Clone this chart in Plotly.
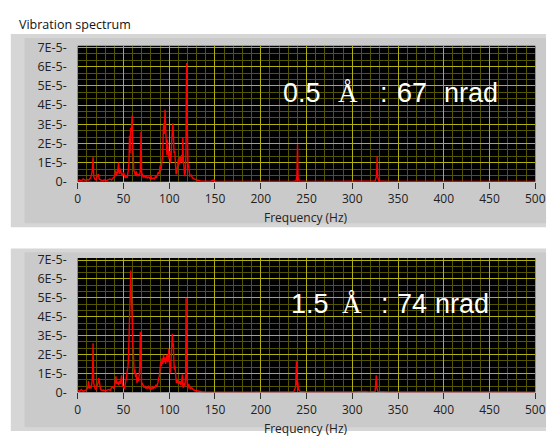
import numpy as np
import plotly.graph_objects as go

# ---- spectrum data (frequency in Hz, amplitude in units of 1E-5) ----
freq_a = [0, 2, 4, 6, 8, 10, 12, 14, 15, 16, 16.8, 17.5, 18.5, 20, 21.5, 22.5, 23.5, 25, 27, 29,
          31, 33, 35, 37, 39, 40.5, 41.5, 42.5, 43.5, 44.6, 45.3, 46, 47, 48, 49, 50, 51, 52, 53, 54,
          55, 56, 56.6, 57.2, 57.8, 58.4, 59, 59.5, 60, 60.6, 61.3, 62, 63, 64, 65, 66, 67, 68.3, 69.2, 69.8,
          70.5, 71.5, 73, 74, 75, 76, 77.5, 79, 80, 81, 82.5, 84, 85, 86, 87, 88, 89, 90, 91, 92,
          92.8, 93.5, 94, 94.5, 95, 95.5, 96, 96.5, 97, 97.5, 98, 98.5, 99, 99.8, 100.5, 101.2, 102, 102.8, 103.4, 104,
          104.6, 105.2, 106, 106.8, 107.5, 108.3, 109, 110, 110.8, 111.5, 112.2, 113, 113.6, 114.4, 114.8, 115.4, 116, 116.8, 117.6, 118.3,
          118.7, 119, 119.4, 119.9, 120.5, 121, 121.8, 122.5, 124, 125.5, 127, 129, 131, 134, 140, 145, 149, 150, 160, 180,
          200, 220, 235, 238.5, 239.5, 240.2, 240.8, 242, 250, 280, 310, 325, 326.5, 327.2, 327.8, 329, 340, 400, 450, 500]
amp_a = [0.05, 0.1, 0.05, 0.15, 0.08, 0.12, 0.1, 0.2, 0.35, 0.6, 1.3, 0.3, 0.15, 0.1, 0.3, 0.4, 0.15, 0.1, 0.05, 0.1,
         0.05, 0.1, 0.15, 0.1, 0.25, 0.3, 0.6, 0.35, 0.5, 1.0, 0.4, 0.7, 0.5, 0.4, 0.3, 0.5, 0.25, 0.2, 0.3, 0.2,
         0.5, 1.0, 2.4, 1.5, 2.8, 2.6, 3.0, 3.45, 2.0, 1.0, 0.6, 0.5, 0.35, 0.55, 0.3, 0.4, 0.3, 0.5, 2.6, 0.5,
         0.35, 0.25, 0.3, 0.2, 0.35, 0.2, 0.25, 0.15, 0.3, 0.15, 0.2, 0.15, 0.3, 0.2, 0.35, 0.5, 0.4, 0.85, 0.6, 1.0,
         1.4, 2.7, 3.05, 2.5, 3.3, 3.75, 2.8, 2.0, 2.3, 1.4, 2.2, 1.6, 1.55, 1.2, 1.6, 1.0, 1.3, 2.2, 2.9, 3.05,
         2.4, 1.5, 1.6, 0.8, 0.4, 0.5, 1.0, 1.2, 0.9, 1.3, 1.0, 1.15, 1.4, 1.0, 2.3, 1.2, 0.5, 0.3, 0.5, 1.5,
         5.0, 6.2, 4.0, 1.2, 0.8, 0.9, 0.5, 0.3, 0.35, 0.2, 0.15, 0.1, 0.08, 0.05, 0.03, 0.02, 0.1, 0.02, 0.02, 0.015,
         0.015, 0.015, 0.02, 0.05, 0.3, 1.95, 0.2, 0.05, 0.02, 0.015, 0.015, 0.05, 0.3, 1.35, 0.25, 0.05, 0.02, 0.015, 0.015, 0.015]

freq_b = [0, 2, 4, 6, 8, 10, 11.2, 11.8, 12.5, 13.5, 14.5, 15.5, 16.2, 16.8, 17.4, 18.2, 19, 20, 21, 22.2,
          23, 23.8, 25, 26.5, 28, 30, 32, 34, 35.5, 37, 38.5, 39.5, 40.5, 41.7, 42.5, 43.5, 44.5, 45.5, 46.5, 48,
          48.8, 50, 51, 52, 53, 54, 55, 55.6, 56.2, 56.8, 57.2, 57.6, 58, 58.4, 58.8, 59.2, 59.7, 60.2, 60.7, 61.2,
          61.8, 62.5, 63.2, 64, 64.8, 65.6, 66.4, 67.2, 67.8, 68.4, 69, 69.8, 70.6, 71.5, 72.5, 73.5, 74.5, 75.5, 76.5, 77.5,
          78.5, 79.5, 80.5, 81.5, 82.5, 83.5, 84.5, 85.5, 86.5, 87.5, 88.5, 89.3, 90, 90.8, 91.5, 92.2, 93, 93.8, 94.5, 95.3,
          96, 96.8, 97.5, 98.2, 99, 99.6, 100.2, 100.8, 101.5, 102.3, 102.9, 103.4, 103.9, 104.5, 105, 105.6, 106.2, 107, 107.8, 108.6,
          109.4, 110.2, 111, 111.8, 112.5, 113.3, 114, 114.4, 114.9, 115.6, 116.4, 117.2, 117.9, 118.4, 118.9, 119.6, 120.4, 121.2, 122, 123,
          124.5, 126, 128, 130, 132, 136, 140, 150, 170, 200, 225, 233, 236, 238.2, 239, 239.6, 240.4, 241.2, 243, 250,
          270, 300, 314, 318, 325, 325.6, 326.2, 326.8, 328, 340, 400, 500]
amp_b = [0.1, 0.05, 0.15, 0.05, 0.1, 0.15, 0.3, 0.6, 0.2, 0.35, 0.2, 0.5, 1.0, 2.6, 0.5, 0.3, 0.2, 0.15, 0.3, 0.5,
         0.75, 0.35, 0.15, 0.1, 0.12, 0.08, 0.1, 0.15, 0.1, 0.25, 0.3, 0.2, 0.4, 0.85, 0.45, 0.55, 0.4, 0.6, 0.45, 0.9,
         0.35, 0.3, 0.2, 0.4, 0.7, 1.1, 1.4, 2.0, 3.5, 3.8, 5.0, 5.1, 6.45, 5.5, 4.2, 3.9, 3.7, 2.5, 2.3, 1.5,
         1.0, 1.2, 0.8, 1.0, 0.5, 0.8, 0.6, 0.9, 1.4, 3.2, 0.6, 0.4, 0.5, 0.3, 0.25, 0.35, 0.2, 0.3, 0.2, 0.35,
         0.2, 0.25, 0.15, 0.3, 0.2, 0.3, 0.25, 0.4, 0.3, 0.5, 0.7, 0.9, 1.3, 1.6, 1.4, 1.8, 1.5, 2.0, 1.6, 1.85,
         1.5, 1.9, 2.0, 1.6, 1.7, 2.3, 1.4, 1.0, 1.2, 1.8, 2.6, 3.1, 2.4, 2.6, 1.7, 1.2, 1.4, 0.8, 0.5, 0.7,
         0.5, 0.6, 0.45, 0.6, 0.4, 0.5, 0.7, 0.95, 0.3, 0.25, 0.5, 0.35, 0.9, 5.0, 0.8, 0.3, 0.2, 0.45, 0.3, 0.2,
         0.25, 0.15, 0.1, 0.08, 0.05, 0.03, 0.02, 0.015, 0.015, 0.015, 0.02, 0.05, 0.03, 0.3, 1.65, 0.4, 0.55, 0.15, 0.05, 0.02,
         0.015, 0.02, 0.05, 0.02, 0.05, 0.35, 0.9, 0.25, 0.05, 0.02, 0.015, 0.015]

x_ticks = [0, 50, 100, 150, 200, 250, 300, 350, 400, 450, 500]
y_tick_vals = [0, 1e-5, 2e-5, 3e-5, 4e-5, 5e-5, 6e-5, 7e-5]
y_tick_text = ["0-", "1E-5-", "2E-5-", "3E-5-", "4E-5-", "5E-5-", "6E-5-", "7E-5-"]

title_text = "Vibration spectrum"
axis_label = "Frequency (Hz)"
# sample spacing and angular noise shown inside each graph
note_a = ["0.5", "Å", ":", "67", "nrad"]
note_b = ["1.5", "Å", ":", "74", "nrad"]

W, H = 558, 439
TEXT_FONT = "Open Sans, Noto Sans, sans-serif"
SANS = "Liberation Sans, Arial, sans-serif"
SERIF = "Liberation Serif, DejaVu Serif, serif"
RED = "#ff0000"
MAJOR_GRID = "#b0b010"
MINOR_GRID = "#555500"


def py(px):
    """pixel row (from top) -> paper y"""
    return (H - px) / H


def pxx(px):
    return px / W


x_dom = [pxx(76.5), pxx(545)]
panels = [
    dict(plot=(40, 181), panel=(28, 228)),
    dict(plot=(260, 399), panel=(250, 439)),
]

fig = go.Figure()
fig.add_trace(go.Scatter(x=freq_a, y=np.array(amp_a) * 1e-5, mode="lines",
                         line=dict(color=RED, width=1.4), xaxis="x", yaxis="y",
                         showlegend=False, hoverinfo="skip"))
fig.add_trace(go.Scatter(x=freq_b, y=np.array(amp_b) * 1e-5, mode="lines",
                         line=dict(color=RED, width=1.4), xaxis="x2", yaxis="y2",
                         showlegend=False, hoverinfo="skip"))

shapes = []
for p in panels:
    t, b = p["panel"]
    shapes.append(dict(type="rect", xref="paper", yref="paper", layer="below",
                       x0=pxx(8), x1=pxx(556), y0=py(b), y1=py(t),
                       fillcolor="#d6d6d6", line=dict(width=0)))
    shapes.append(dict(type="rect", xref="paper", yref="paper", layer="below",
                       x0=pxx(22), x1=pxx(556), y0=py(b - 4), y1=py(t + 4),
                       fillcolor="#cacaca", line=dict(width=0)))
    pt, pb = p["plot"]
    shapes.append(dict(type="rect", xref="paper", yref="paper", layer="below",
                       x0=x_dom[0], x1=x_dom[1], y0=py(pb), y1=py(pt),
                       fillcolor="#000000", line=dict(width=0)))

xaxis_common = dict(
    range=[0, 500], tickvals=x_ticks, ticktext=[str(v) for v in x_ticks],
    ticks="outside", ticklen=6, tickwidth=1, tickcolor="#333333",
    showgrid=True, gridcolor=MAJOR_GRID, gridwidth=1,
    minor=dict(dtick=10, tick0=0, showgrid=True, gridcolor=MINOR_GRID, gridwidth=1, ticks=""),
    zeroline=False, showline=False, fixedrange=True,
    tickfont=dict(family=TEXT_FONT, size=12, color="#222222"),
)
yaxis_common = dict(
    range=[0, 7.1e-5], tickvals=y_tick_vals, ticktext=y_tick_text,
    ticks="", ticklabelstandoff=10,
    showgrid=True, gridcolor=MAJOR_GRID, gridwidth=1,
    minor=dict(dtick=1e-5 / 3, tick0=0, showgrid=True, gridcolor=MINOR_GRID, gridwidth=1, ticks=""),
    zeroline=False, showline=False, fixedrange=True,
    tickfont=dict(family=TEXT_FONT, size=12.5, color="#222222"),
)

annotations = [
    dict(text=title_text, xref="paper", yref="paper", x=pxx(14), y=py(18),
         xanchor="left", yanchor="middle", showarrow=False,
         font=dict(family=TEXT_FONT, size=12.5, color="#111111")),
    dict(text=axis_label, xref="paper", yref="paper", x=pxx(310.5), y=py(218),
         xanchor="center", yanchor="middle", showarrow=False,
         font=dict(family=TEXT_FONT, size=12, color="#222222")),
    dict(text=axis_label, xref="paper", yref="paper", x=pxx(310.5), y=py(436),
         xanchor="center", yanchor="middle", showarrow=False,
         font=dict(family=TEXT_FONT, size=12, color="#222222")),
]

# left edges (px) of each piece of the in-graph note, and its vertical centre
note_layout = [
    (note_a, [286, 342, 385, 402, 451], 89),
    (note_b, [294, 346, 386, 402, 441], 308),
]
for parts, lefts, yc in note_layout:
    for txt, left in zip(parts, lefts):
        fam = SERIF if txt == "Å" else SANS
        annotations.append(dict(text=txt, xref="paper", yref="paper", x=pxx(left), y=py(yc),
                                xanchor="left", yanchor="middle", showarrow=False, borderpad=0,
                                font=dict(family=fam, size=27, color="#ffffff")))

fig.update_layout(
    width=W, height=H,
    margin=dict(l=0, r=0, t=0, b=0),
    paper_bgcolor="#ffffff",
    plot_bgcolor="rgba(0,0,0,0)",
    xaxis=dict(domain=x_dom, anchor="y", **xaxis_common),
    yaxis=dict(domain=[py(panels[0]["plot"][1]), py(panels[0]["plot"][0])], anchor="x", **yaxis_common),
    xaxis2=dict(domain=x_dom, anchor="y2", **xaxis_common),
    yaxis2=dict(domain=[py(panels[1]["plot"][1]), py(panels[1]["plot"][0])], anchor="x2", **yaxis_common),
    shapes=shapes,
    annotations=annotations,
    showlegend=False,
)

fig.write_html("out.html", config=dict(displayModeBar=False, staticPlot=True))
